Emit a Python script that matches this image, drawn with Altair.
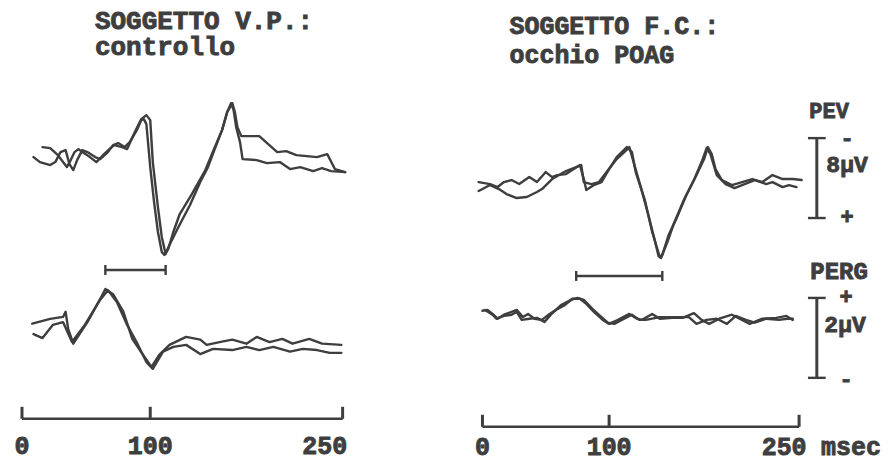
import altair as alt
import pandas as pd

# ---------------- data (time in ms, amplitude in µV) ----------------
# Left subject (V.P., controllo) - PEV, two superimposed recordings (negative up)
LP_A_T = [16, 22, 28, 32, 35, 38, 41, 44, 47, 53, 58, 64, 69, 72, 78, 82, 88, 93, 97, 100,
          102, 106, 109, 112, 115, 122, 131, 139, 145, 150, 156, 160, 164, 166, 168, 171, 185, 199, 206, 214,
          230, 238, 244, 252]
LP_A_V = [-1.2, -1.1, -0.4, 0.3, 0.8, 0.1, -0.7, -1.0, -0.7, -0.2, 0.3, -0.5, -1.1, -1.4, -1.2, -1.0, -2.7, -4.0, -4.4, -3.9,
          0.3, 4.8, 7.8, 9.5, 8.6, 6.8, 4.6, 2.3, 0.8, -0.9, -2.9, -4.7, -5.6, -4.7, -3.2, -2.3, -2.3, -0.7, -0.8, -0.4,
          -0.2, -0.5, 1.0, 1.3]
LP_B_T = [9, 14, 22, 26, 30, 34, 37, 40, 43, 47, 51, 57, 61, 67, 71, 75, 80, 84, 90, 93,
          95, 97, 100, 103, 106, 109, 111, 114, 118, 123, 132, 143, 150, 156, 160, 163, 165, 167, 170, 172,
          183, 191, 201, 209, 217, 227, 234, 241, 252]
LP_B_V = [-0.2, 0.3, 0.6, 0.3, -0.7, -0.9, 0.5, 1.1, 0.1, -0.9, -0.7, -0.2, 0.0, -0.7, -1.4, -1.6, -1.2, -1.7, -3.0, -3.9,
          -4.0, -3.5, 0.8, 4.3, 7.3, 9.3, 9.6, 9.0, 7.3, 5.5, 3.6, 1.1, -1.1, -2.9, -4.7, -5.6, -4.9, -3.2, -1.7, 0.0,
          0.1, 0.4, 0.3, 1.0, 0.8, 1.2, 0.9, 1.2, 1.3]

# Left subject - PERG (positive up)
LG_A_T = [8, 22, 32, 34, 36, 40, 51, 61, 65, 71, 79, 86, 94, 101, 107, 115, 128, 139, 144, 154,
          164, 175, 183, 193, 203, 211, 224, 234, 249]
LG_A_V = [0.08, 0.20, 0.25, 0.38, -0.05, -0.42, 0.12, 0.70, 0.95, 0.82, 0.38, -0.30, -0.68, -1.00, -0.70, -0.45, -0.25, -0.32, -0.45, -0.38,
          -0.32, -0.42, -0.25, -0.38, -0.30, -0.42, -0.30, -0.42, -0.45]
LG_B_T = [9, 16, 24, 32, 39, 49, 61, 67, 74, 82, 90, 97, 102, 110, 118, 128, 139, 149, 164, 175,
          185, 196, 209, 219, 230, 240, 249]
LG_B_V = [-0.18, -0.28, 0.05, 0.12, -0.38, 0.05, 0.68, 0.92, 0.62, 0.05, -0.42, -0.88, -1.05, -0.62, -0.50, -0.45, -0.68, -0.55, -0.58, -0.50,
          -0.58, -0.50, -0.62, -0.55, -0.58, -0.65, -0.65]

# Right subject (F.C., occhio POAG) - PEV
RP_A_T = [-3, 6, 12, 17, 23, 29, 37, 43, 50, 55, 59, 66, 77, 80, 82, 88, 94, 100, 106, 114,
          118, 121, 128, 134, 140, 142, 147, 153, 161, 169, 175, 178, 181, 184, 189, 197, 205, 213, 221, 229,
          237, 245, 252]
RP_A_V = [-0.2, 0.0, 0.3, -0.2, -0.4, 0.0, -0.7, -0.2, -1.2, -0.7, -0.9, -1.0, -1.9, -0.5, 0.6, 0.1, -0.2, -1.5, -2.7, -3.7,
          -3.2, -1.2, 1.5, 4.8, 7.3, 7.1, 5.1, 3.5, 1.1, -0.9, -2.5, -3.7, -3.0, -1.5, -0.4, 0.1, -0.2, -0.5, -0.2, -0.9,
          -0.5, -0.5, -0.4]
RP_B_T = [-3, 6, 13, 19, 27, 35, 43, 47, 55, 66, 74, 78, 80, 86, 92, 98, 106, 112, 116, 120,
          125, 131, 136, 139, 141, 146, 151, 159, 167, 173, 177, 180, 185, 192, 199, 207, 215, 224, 229, 237,
          242, 248]
RP_B_V = [0.7, 0.1, 0.5, 1.0, 1.4, 1.3, 0.8, 0.5, -0.5, -1.3, -1.7, -1.9, -0.2, 0.0, -0.2, -1.2, -2.5, -3.2, -3.7, -1.9,
          0.3, 3.1, 5.6, 7.2, 7.4, 5.8, 4.0, 1.6, -0.4, -2.2, -3.6, -3.0, -0.9, 0.0, 0.4, 0.0, -0.4, 0.0, -0.2, 0.3,
          0.1, 0.3]

# Right subject - PERG
RG_A_T = [0, 4, 8, 12, 17, 27, 32, 36, 41, 47, 53, 59, 65, 71, 77, 82, 88, 95, 100, 107,
          116, 122, 126, 134, 140, 150, 158, 167, 173, 179, 187, 197, 203, 211, 221, 232, 240, 245]
RG_A_V = [0.08, 0.10, 0.0, -0.12, -0.02, 0.10, -0.08, 0.0, -0.12, -0.15, 0.0, 0.12, 0.22, 0.38, 0.38, 0.25, 0.05, -0.15, -0.25, -0.15,
          0.0, -0.12, -0.15, 0.0, -0.12, -0.10, -0.10, 0.02, -0.15, -0.25, -0.12, -0.02, -0.12, -0.25, -0.12, -0.10, -0.05, -0.15]
RG_B_T = [2, 8, 11, 17, 23, 27, 31, 37, 43, 49, 54, 62, 70, 75, 80, 87, 94, 99, 104, 110,
          118, 124, 129, 140, 163, 169, 177, 185, 193, 200, 208, 215, 224, 234, 241, 245]
RG_B_V = [0.10, -0.02, -0.12, -0.05, -0.02, 0.05, -0.15, -0.12, -0.10, -0.20, -0.02, 0.22, 0.35, 0.40, 0.35, 0.12, -0.08, -0.22, -0.25, -0.15,
          -0.02, -0.15, -0.15, -0.08, -0.08, -0.25, -0.15, -0.12, -0.25, -0.05, -0.15, -0.22, -0.12, -0.15, -0.12, -0.12]

TICKS_MS = [0, 100, 250]
TICK_LABELS = ["0", "100", "250"]
LAT_LEFT = [65, 112]       # latency bars (ms)
LAT_RIGHT = [74, 142]
PEV_BAR_UV = [-4.6, 3.4]   # 8 µV calibration
PERG_BAR_UV = [0.4, -1.6]  # 2 µV calibration
BAR_MS = 264
BAR_CAP_MS = [257, 271]

TITLE_LEFT = ["SOGGETTO V.P.:", "controllo"]
TITLE_RIGHT = ["SOGGETTO F.C.:", "occhio POAG"]

# ---------------- style ----------------
INK = "#3e3e3e"
FONT = "Liberation Mono"
H = 452
PEV_PX = 10.0   # px per µV
PERG_PX = 40.0
SW = 2.4
TSTROKE = 0.9


def trace(t, v, name):
    return pd.DataFrame({"t": t, "v": v, "trace": name, "i": list(range(len(t)))})


def one():
    return pd.DataFrame({"a": [0]})


def txt(s, x, y, size, align="left", baseline="alphabetic"):
    return alt.Chart(one()).mark_text(
        text=s, font=FONT, fontWeight="bold", fontSize=size, color=INK,
        stroke=INK, strokeWidth=TSTROKE, align=align, baseline=baseline
    ).encode(x=alt.value(x), y=alt.value(y))


def panel(width, x0, pxms, pev, pev0, perg, perg0, lat, lat_y, axis_y, lab_y, d250,
          titles, tx, ty, tsize, extras=False):
    xs = alt.Scale(domain=[-x0 / pxms, (width - x0) / pxms], nice=False, zero=False)
    pev_s = alt.Scale(domain=[-pev0 / PEV_PX, (H - pev0) / PEV_PX], reverse=True, nice=False, zero=False)
    perg_s = alt.Scale(domain=[-(H - perg0) / PERG_PX, perg0 / PERG_PX], nice=False, zero=False)

    def X(f):
        return alt.X(f, scale=xs, axis=None)

    line_kw = dict(color=INK, strokeWidth=SW, strokeJoin="round", strokeCap="round", clip=False)
    lab_kw = dict(font=FONT, fontWeight="bold", fontSize=25, color=INK, stroke=INK, strokeWidth=TSTROKE,
                  align="center", baseline="alphabetic")
    layers = [
        alt.Chart(pev).mark_line(**line_kw).encode(
            x=X("t:Q"), y=alt.Y("v:Q", scale=pev_s, axis=None), detail="trace:N", order="i:Q"),
        alt.Chart(perg).mark_line(**line_kw).encode(
            x=X("t:Q"), y=alt.Y("v:Q", scale=perg_s, axis=None), detail="trace:N", order="i:Q"),
        # latency bar
        alt.Chart(pd.DataFrame({"a": [lat[0]], "b": [lat[1]]})).mark_rule(color=INK, strokeWidth=SW).encode(
            x=X("a:Q"), x2="b:Q", y=alt.value(lat_y)),
        alt.Chart(pd.DataFrame({"t": lat})).mark_rule(color=INK, strokeWidth=SW).encode(
            x=X("t:Q"), y=alt.value(lat_y - 5), y2=alt.value(lat_y + 5)),
        # time axis
        alt.Chart(pd.DataFrame({"a": [TICKS_MS[0]], "b": [TICKS_MS[-1]]})).mark_rule(color=INK, strokeWidth=SW).encode(
            x=X("a:Q"), x2="b:Q", y=alt.value(axis_y)),
        alt.Chart(pd.DataFrame({"t": TICKS_MS})).mark_rule(color=INK, strokeWidth=SW + 0.6).encode(
            x=X("t:Q"), y=alt.value(axis_y - 12), y2=alt.value(axis_y)),
        alt.Chart(pd.DataFrame({"t": TICKS_MS[:2], "s": TICK_LABELS[:2]})).mark_text(**lab_kw).encode(
            x=X("t:Q"), y=alt.value(lab_y), text="s:N"),
        alt.Chart(pd.DataFrame({"t": TICKS_MS[2:], "s": TICK_LABELS[2:]})).mark_text(dx=d250, **lab_kw).encode(
            x=X("t:Q"), y=alt.value(lab_y), text="s:N"),
        txt(titles[0], tx, ty[0], tsize),
        txt(titles[1], tx, ty[1], tsize),
    ]
    if extras:
        cap_df = pd.DataFrame({"a": [BAR_CAP_MS[0]] * 2, "b": [BAR_CAP_MS[1]] * 2})
        layers += [
            alt.Chart(pd.DataFrame({"t": [BAR_MS], "lo": [PEV_BAR_UV[0]], "hi": [PEV_BAR_UV[1]]})).mark_rule(
                color=INK, strokeWidth=SW + 0.6).encode(
                x=X("t:Q"), y=alt.Y("lo:Q", scale=pev_s, axis=None), y2="hi:Q"),
            alt.Chart(cap_df.assign(v=PEV_BAR_UV)).mark_rule(color=INK, strokeWidth=SW).encode(
                x=X("a:Q"), x2="b:Q", y=alt.Y("v:Q", scale=pev_s, axis=None)),
            alt.Chart(pd.DataFrame({"t": [BAR_MS], "lo": [PERG_BAR_UV[1]], "hi": [PERG_BAR_UV[0]]})).mark_rule(
                color=INK, strokeWidth=SW + 0.6).encode(
                x=X("t:Q"), y=alt.Y("lo:Q", scale=perg_s, axis=None), y2="hi:Q"),
            alt.Chart(cap_df.assign(v=PERG_BAR_UV)).mark_rule(color=INK, strokeWidth=SW).encode(
                x=X("a:Q"), x2="b:Q", y=alt.Y("v:Q", scale=perg_s, axis=None)),
            txt("PEV", 390, 108, 22, align="center"),
            txt("-", 408, 128, 22, align="center", baseline="middle"),
            txt("8μV", 408, 162, 23, align="center"),
            txt("+", 408, 207, 22, align="center", baseline="middle"),
            txt("PERG", 400, 269, 24, align="center"),
            txt("+", 407, 287, 22, align="center", baseline="middle"),
            txt("2μV", 406, 322, 23, align="center"),
            txt("-", 407, 369, 22, align="center", baseline="middle"),
            txt("msec", 412, lab_y, 25, align="center"),
        ]
    return alt.layer(*layers).resolve_scale(y="independent").properties(width=width, height=H)


left_pev = pd.concat([trace(LP_A_T, LP_A_V, "a"), trace(LP_B_T, LP_B_V, "b")])
left_perg = pd.concat([trace(LG_A_T, LG_A_V, "a"), trace(LG_B_T, LG_B_V, "b")])
right_pev = pd.concat([trace(RP_A_T, RP_A_V, "a"), trace(RP_B_T, RP_B_V, "b")])
right_perg = pd.concat([trace(RG_A_T, RG_A_V, "a"), trace(RG_B_T, RG_B_V, "b")])

left = panel(432, 14, 1.284, left_pev, 149, left_perg, 317, LAT_LEFT, 260, 409, 444, -18,
             TITLE_LEFT, 87, [19, 45], 26)
right = panel(442, 43, 1.268, right_pev, 174, right_perg, 304, LAT_RIGHT, 266, 417, 445, -15,
              TITLE_RIGHT, 70, [24, 53], 25, extras=True)

chart = alt.hconcat(left, right, spacing=0, bounds="flush").properties(
    padding=0
).configure_view(stroke=None)

chart.save("out.html", embed_options={"renderer": "svg", "actions": False})
